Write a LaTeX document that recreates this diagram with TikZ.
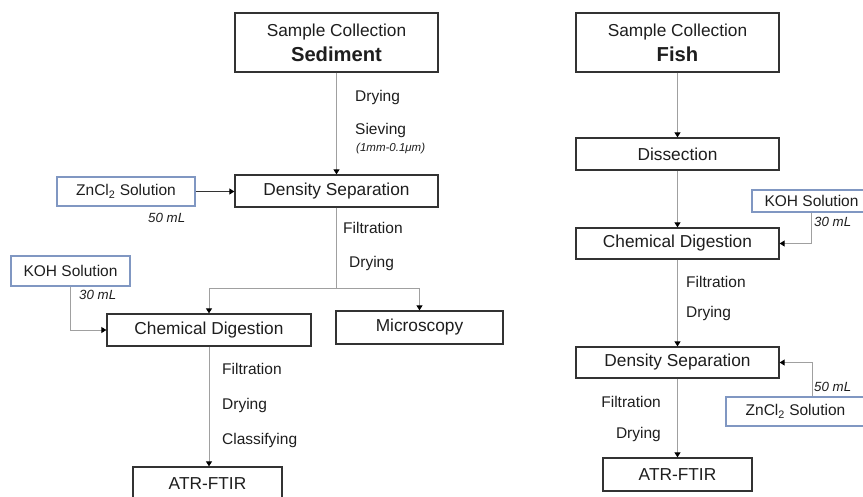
\documentclass[tikz,border=0pt]{standalone}
\usepackage{fontspec}
\setmainfont{Liberation Sans}
\usetikzlibrary{arrows.meta}
\definecolor{boxc}{HTML}{333333}
\definecolor{solc}{HTML}{8097C2}
\definecolor{linec}{HTML}{A0A0A0}
\definecolor{txt}{HTML}{1E1E1E}
\tikzset{
 procbox/.style={draw=boxc, line width=1.3pt, inner sep=0pt, align=center, text=txt, font=\fontsize{17.3}{25}\selectfont},
 solbox/.style={draw=solc, line width=1.2pt, inner sep=0pt, text=txt, font=\fontsize{15.5}{18}\selectfont},
 conn/.style={draw=linec, line width=1pt, -{Triangle[width=6pt,length=5pt,color=black]}},
 darkconn/.style={draw=boxc, line width=1.1pt, -{Triangle[width=6pt,length=5pt,color=black]}},
 plainline/.style={draw=linec, line width=1pt},
 lab/.style={anchor=west, inner sep=0pt, text=txt, font=\fontsize{15.5}{18}\selectfont},
 vol/.style={anchor=west, inner sep=0pt, text=txt, font=\fontsize{13.3}{16}\selectfont\itshape},
}
\begin{document}
\begin{tikzpicture}[x=1pt,y=-1pt]
\useasboundingbox (0,0) rectangle (863,496);
\clip (0,0) rectangle (863,496);
\fill[white] (0,0) rectangle (863,496);

% ---------- Left: Sediment ----------
\node[procbox, minimum width=203pt, minimum height=59pt] (sc1) at (336.5,42.5)
  {Sample Collection\\{\bfseries\fontsize{20.2}{25}\selectfont Sediment}};
\node[procbox, minimum width=203pt, minimum height=32pt] (ds1) at (336.5,191) {Density Separation};
\node[solbox, minimum width=138pt, minimum height=29pt] (zn1) at (126,191.5) {ZnCl\textsubscript{2} Solution};
\node[solbox, minimum width=119pt, minimum height=30pt] (koh1) at (70.5,271) {KOH Solution};
\node[procbox, minimum width=204pt, minimum height=32pt] (cd1) at (209,330) {Chemical Digestion};
\node[procbox, minimum width=167pt, minimum height=33pt] (mic) at (419.5,327.5) {Microscopy};
\node[procbox, minimum width=149pt, minimum height=33pt] (atr1) at (207.5,483.5) {ATR-FTIR};

\draw[conn] (sc1.south) -- (ds1.north);
\node[lab] (l1) at (355,97) {Drying};
\node[lab] (l2) at (355,130) {Sieving};
\node[lab, font=\fontsize{11.5}{14}\selectfont\itshape] (l3) at (356,149) {(1mm-0.1μm)};

\draw[darkconn] (zn1.east) -- (zn1.east -| ds1.west);
\node[vol] (v1) at (148,218) {50 mL};

\coordinate (j1) at (ds1.south |- 0,288);
\draw[plainline] (ds1.south) -- (j1);
\draw[conn] (j1) -| (cd1.north);
\draw[conn] (j1) -| (mic.north);
\node[lab] (l4) at (343,228) {Filtration};
\node[lab] (l5) at (349,263) {Drying};

\draw[conn] (koh1.south) |- (cd1.west);
\node[vol] (v2) at (79,295) {30 mL};

\draw[conn] (cd1.south) -- (cd1.south |- atr1.north);
\node[lab] (l6) at (222,369) {Filtration};
\node[lab] (l7) at (222,405) {Drying};
\node[lab] (l8) at (222,440) {Classifying};

% ---------- Right: Fish ----------
\node[procbox, minimum width=203pt, minimum height=59pt] (sc2) at (677.5,42.5)
  {Sample Collection\\{\bfseries\fontsize{20.2}{25}\selectfont Fish}};
\node[procbox, minimum width=203pt, minimum height=32pt] (dis) at (677.5,154) {Dissection};
\node[procbox, minimum width=203pt, minimum height=31pt] (cd2) at (677.5,243.5) {Chemical Digestion};
\node[solbox, minimum width=119pt, minimum height=22pt] (koh2) at (811.5,201) {KOH Solution};
\node[procbox, minimum width=203pt, minimum height=31pt] (ds2) at (677.5,362.5) {Density Separation};
\node[solbox, minimum width=139pt, minimum height=29pt] (zn2) at (795.5,411.5) {ZnCl\textsubscript{2} Solution};
\node[procbox, minimum width=149pt, minimum height=33pt] (atr2) at (677.5,474.5) {ATR-FTIR};

\draw[conn] (sc2.south) -- (dis.north);
\draw[conn] (dis.south) -- (cd2.north);
\draw[conn] (koh2.south) |- (cd2.east);
\node[vol] (v3) at (814,222) {30 mL};

\draw[conn] (cd2.south) -- (ds2.north);
\node[lab] (l9) at (686,282) {Filtration};
\node[lab] (l10) at (686,313) {Drying};

\draw[conn] ([xshift=16.5pt]zn2.north) |- (ds2.east);
\node[vol] (v4) at (814,387) {50 mL};

\draw[conn] (ds2.south) -- (atr2.north);
\node[lab, anchor=east] (l11) at (661,402) {Filtration};
\node[lab, anchor=east] (l12) at (661,434) {Drying};
\end{tikzpicture}
\end{document}
